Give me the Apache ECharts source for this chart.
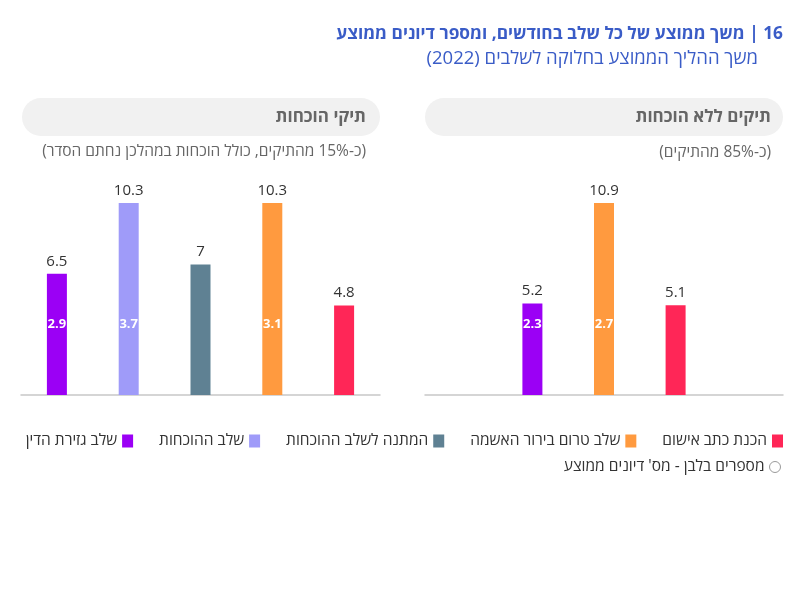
<!DOCTYPE html>
<html dir="rtl">
<head>
<meta charset="utf-8">
<script src="https://cdn.jsdelivr.net/npm/echarts@6/dist/echarts.min.js"></script>
<style>
html,body{margin:0;padding:0;background:#fff;}
#c{width:800px;height:600px;}
</style>
</head>
<body>
<div id="c" dir="rtl"></div>
<script>
// ---- data ----
const stages = ['שלב גזירת הדין','שלב ההוכחות','המתנה לשלב ההוכחות','שלב טרום בירור האשמה','הכנת כתב אישום'];
const stageColors = ['#9b00f5','#9f9bf9','#5f8193','#ff9a3f','#ff2657'];

const leftCats = ['שלב גזירת הדין','שלב ההוכחות','המתנה לשלב ההוכחות','שלב טרום בירור האשמה','הכנת כתב אישום'];
const leftMonths = [6.5, 10.3, 7, 10.3, 4.8];
const leftHearings = [2.9, 3.7, null, 3.1, null];

const rightCats = [' ','שלב גזירת הדין','שלב טרום בירור האשמה','הכנת כתב אישום','  '];
const rightMonths = [null, 5.2, 10.9, 5.1, null];
const rightHearings = [null, 2.3, 2.7, null, null];

const titleText = '16 | משך ממוצע של כל שלב בחודשים, ומספר דיונים ממוצע';
const subtitleText = 'משך ההליך הממוצע בחלוקה לשלבים (2022)';
const leftHeader = 'תיקי הוכחות';
const leftSub = '(כ-15% מהתיקים, כולל הוכחות במהלכן נחתם הסדר)';
const rightHeader = 'תיקים ללא הוכחות';
const rightSub = '(כ-85% מהתיקים)';
const hearingsLegend = "מספרים בלבן - מס' דיונים ממוצע";

// ---- chart ----
const FONT = "'Open Sans', 'Liberation Sans', 'DejaVu Sans', sans-serif";
const chart = echarts.init(document.getElementById('c'));

function panelSeries(cats, months, hearings, idx, stackName) {
  const out = [];
  stages.forEach((s, k) => {
    out.push({
      type: 'bar', name: s, xAxisIndex: idx, yAxisIndex: idx, stack: stackName,
      barWidth: 20,
      itemStyle: { color: stageColors[k] },
      label: { show: true, position: 'top', distance: 5, color: '#333', fontSize: 15, fontFamily: FONT },
      data: cats.map((c, i) => (c === s ? months[i] : null))
    });
  });
  out.push({
    type: 'bar', name: hearingsLegend, xAxisIndex: idx, yAxisIndex: idx,
    barWidth: 20, barGap: '-100%', silent: true, z: 5,
    itemStyle: { color: 'rgba(0,0,0,0)' },
    label: {
      show: true, position: 'insideBottom', distance: 64, color: '#fff',
      fontWeight: 'bold', fontSize: 13, fontFamily: FONT,
      formatter: p => (hearings[p.dataIndex] == null ? '' : String(hearings[p.dataIndex]))
    },
    data: months.map((m, i) => (hearings[i] == null ? null : m))
  });
  return out;
}

const axisX = (cats, gi) => ({
  type: 'category', gridIndex: gi, data: cats,
  axisLine: { lineStyle: { color: '#c8c8c8', width: 1.5 } },
  axisTick: { show: false }, axisLabel: { show: false }
});
const axisY = gi => ({
  type: 'value', gridIndex: gi, min: 0, max: 'dataMax', show: false,
  splitLine: { show: false }
});

const option = {
  animation: false,
  textStyle: { fontFamily: FONT },
  grid: [
    { left: 21, width: 359, top: 203, bottom: 205 },
    { left: 425, width: 358, top: 203, bottom: 205 }
  ],
  xAxis: [axisX(leftCats, 0), axisX(rightCats, 1)],
  yAxis: [axisY(0), axisY(1)],
  legend: [
    {
      data: stages.map((s, k) => ({ name: s, icon: 'rect' })),
      right: 12, width: 790, top: 428, align: 'right', orient: 'horizontal',
      itemWidth: 11, itemHeight: 13, itemGap: 26,
      textStyle: { fontSize: 15.5, color: '#333', fontFamily: FONT },
      selectedMode: false
    },
    {
      data: [{ name: hearingsLegend, icon: 'circle', itemStyle: { color: '#fff', borderColor: '#999', borderWidth: 1 } }],
      right: 14, top: 454, align: 'right',
      itemWidth: 11, itemHeight: 11,
      textStyle: { fontSize: 15.5, color: '#333', fontFamily: FONT },
      selectedMode: false
    }
  ],
  graphic: [
    { type: 'text', x: 783, y: 34, style: { text: titleText, textAlign: 'right', textVerticalAlign: 'middle', font: 'bold 17.3px ' + FONT, fill: '#3a5cc7' } },
    { type: 'text', x: 758, y: 59, style: { text: subtitleText, textAlign: 'right', textVerticalAlign: 'middle', font: '18.5px ' + FONT, fill: '#3a5cc7' } },
    { type: 'rect', shape: { x: 22, y: 98, width: 358, height: 38, r: 19 }, style: { fill: '#f1f1f1' } },
    { type: 'rect', shape: { x: 425, y: 98, width: 358, height: 38, r: 19 }, style: { fill: '#f1f1f1' } },
    { type: 'text', x: 366, y: 117, style: { text: leftHeader, textAlign: 'right', textVerticalAlign: 'middle', font: 'bold 17px ' + FONT, fill: '#666' } },
    { type: 'text', x: 771, y: 117, style: { text: rightHeader, textAlign: 'right', textVerticalAlign: 'middle', font: 'bold 17px ' + FONT, fill: '#666' } },
    { type: 'text', x: 366, y: 152, style: { text: leftSub, textAlign: 'right', textVerticalAlign: 'middle', font: '15.5px ' + FONT, fill: '#666' } },
    { type: 'text', x: 771, y: 153, style: { text: rightSub, textAlign: 'right', textVerticalAlign: 'middle', font: '15.5px ' + FONT, fill: '#666' } }
  ],
  series: [].concat(
    panelSeries(leftCats, leftMonths, leftHearings, 0, 'L'),
    panelSeries(rightCats, rightMonths, rightHearings, 1, 'R')
  )
};
chart.setOption(option);
</script>
</body>
</html>
